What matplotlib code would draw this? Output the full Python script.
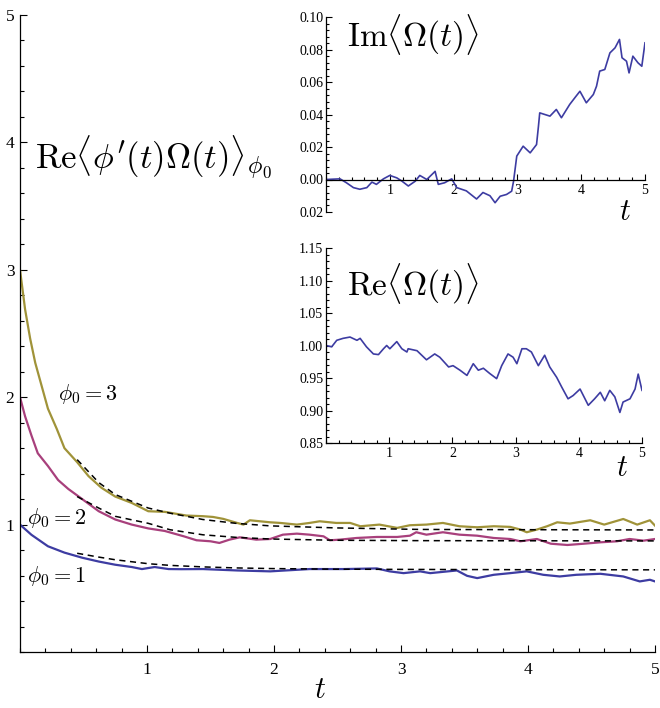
import matplotlib
matplotlib.use('Agg')
import matplotlib.pyplot as plt
from matplotlib.ticker import MultipleLocator, FixedLocator, FixedFormatter

plt.rcParams['mathtext.fontset'] = 'cm'
plt.rcParams['font.family'] = ['Liberation Serif', 'DejaVu Serif']

# main panel: Re<phi'(t) Omega(t)> for three initial values
gold_t = [0, 0.04, 0.08, 0.12, 0.17, 0.22, 0.29, 0.35, 0.45, 0.54, 0.64, 0.75, 0.88, 1.01,
          1.14, 1.31, 1.44, 1.52, 1.60, 1.71, 1.76, 1.81, 1.89, 1.97, 2.05, 2.18, 2.28,
          2.36, 2.49, 2.60, 2.68, 2.83, 2.97, 3.07, 3.20, 3.33, 3.46, 3.60, 3.73, 3.86,
          3.94, 3.99, 4.07, 4.15, 4.23, 4.33, 4.49, 4.60, 4.75, 4.86, 4.96, 5.0]
gold_v = [3.0, 2.69, 2.46, 2.27, 2.09, 1.91, 1.75, 1.60, 1.49, 1.38, 1.29, 1.22, 1.17, 1.105,
          1.10, 1.071, 1.066, 1.06, 1.045, 1.013, 1.0, 1.034, 1.026, 1.018, 1.013, 1.0, 1.013,
          1.026, 1.013, 1.013, 0.987, 1.0, 0.974, 0.995, 1.0, 1.013, 0.987, 0.979, 0.987, 0.982,
          0.961, 0.94, 0.961, 0.987, 1.018, 1.008, 1.034, 1.0, 1.044, 1.0, 1.034, 0.992]

pink_t = [0, 0.04, 0.09, 0.14, 0.22, 0.30, 0.38, 0.49, 0.62, 0.75, 0.88, 1.01, 1.14, 1.29,
          1.39, 1.50, 1.57, 1.65, 1.73, 1.86, 1.97, 2.07, 2.18, 2.28, 2.39, 2.44, 2.52, 2.65,
          2.81, 2.97, 3.07, 3.12, 3.20, 3.33, 3.46, 3.60, 3.73, 3.86, 3.94, 4.07, 4.18, 4.31,
          4.44, 4.57, 4.70, 4.80, 4.91, 5.0]
pink_v = [2.0, 1.85, 1.70, 1.56, 1.46, 1.35, 1.28, 1.20, 1.105, 1.04, 1.00, 0.97, 0.95, 0.908,
          0.877, 0.869, 0.856, 0.882, 0.90, 0.882, 0.887, 0.921, 0.929, 0.921, 0.908, 0.877,
          0.882, 0.895, 0.903, 0.903, 0.913, 0.94, 0.921, 0.94, 0.921, 0.913, 0.895, 0.887,
          0.869, 0.887, 0.85, 0.84, 0.85, 0.861, 0.869, 0.887, 0.874, 0.887]

blue_t = [0, 0.09, 0.22, 0.35, 0.49, 0.62, 0.75, 0.88, 0.96, 1.06, 1.17, 1.27, 1.44, 1.71,
          1.97, 2.28, 2.55, 2.81, 2.91, 3.02, 3.15, 3.23, 3.44, 3.52, 3.60, 3.73, 3.86, 3.99,
          4.12, 4.25, 4.38, 4.57, 4.75, 4.88, 4.96, 5.0]
blue_v = [1.0, 0.92, 0.83, 0.78, 0.74, 0.71, 0.685, 0.667, 0.651, 0.667, 0.651, 0.65, 0.651,
          0.640, 0.633, 0.651, 0.651, 0.656, 0.633, 0.619, 0.633, 0.619, 0.640, 0.598, 0.580,
          0.606, 0.619, 0.633, 0.606, 0.593, 0.606, 0.614, 0.593, 0.554, 0.567, 0.554]

# dashed fitted curves
fit_t = [0.45, 0.62, 0.75, 1.01, 1.18, 1.44, 1.70, 1.97, 2.49, 3.15, 4.0, 5.0]
gold_fit = [1.51, 1.33, 1.236, 1.13, 1.09, 1.04, 1.01, 0.99, 0.974, 0.962, 0.96, 0.958]
pink_fit = [1.22, 1.13, 1.065, 1.01, 0.96, 0.92, 0.90, 0.887, 0.877, 0.874, 0.873, 0.872]
blue_fit = [0.775, 0.745, 0.724, 0.693, 0.68, 0.668, 0.66, 0.655, 0.65, 0.648, 0.646, 0.645]

# inset: Im<Omega(t)>
im_t = [0, 0.22, 0.32, 0.43, 0.53, 0.64, 0.72, 0.79, 0.90, 1.00, 1.11, 1.19, 1.29, 1.40,
        1.47, 1.58, 1.71, 1.76, 1.86, 1.97, 2.05, 2.20, 2.36, 2.46, 2.57, 2.65, 2.73, 2.83,
        2.91, 2.94, 2.99, 3.09, 3.20, 3.30, 3.33, 3.35, 3.51, 3.61, 3.69, 3.82, 3.92, 3.98,
        4.08, 4.19, 4.24, 4.29, 4.37, 4.45, 4.53, 4.60, 4.64, 4.71, 4.75, 4.81, 4.89, 4.95, 5.0]
im_v = [0, 0.0004, -0.002, -0.005, -0.006, -0.005, -0.0016, -0.003, 0.0004, 0.0025, 0.001,
        -0.001, -0.004, -0.001, 0.0025, 0, 0.005, -0.003, -0.002, 0.0004, -0.005, -0.007,
        -0.012, -0.008, -0.010, -0.0143, -0.0103, -0.0092, -0.0072, -0.001, 0.0144, 0.0205,
        0.0164, 0.0215, 0.0328, 0.041, 0.039, 0.0431, 0.038, 0.0462, 0.0513, 0.0543, 0.0472,
        0.0523, 0.0574, 0.0667, 0.0677, 0.0779, 0.081, 0.0862, 0.0749, 0.0728, 0.0656, 0.0759,
        0.0718, 0.0697, 0.0841]

# inset: Re<Omega(t)>
re_t = [0, 0.09, 0.17, 0.27, 0.38, 0.49, 0.54, 0.64, 0.75, 0.83, 0.91, 0.96, 1.01, 1.12,
        1.20, 1.28, 1.30, 1.44, 1.59, 1.72, 1.80, 1.94, 2.01, 2.12, 2.23, 2.33, 2.41, 2.49,
        2.59, 2.70, 2.78, 2.88, 2.96, 3.02, 3.10, 3.17, 3.25, 3.36, 3.46, 3.54, 3.65, 3.73,
        3.83, 3.91, 4.02, 4.15, 4.25, 4.34, 4.41, 4.49, 4.57, 4.65, 4.70, 4.81, 4.89, 4.94, 5.0]
re_v = [1.0, 0.998, 1.008, 1.011, 1.013, 1.008, 1.011, 0.998, 0.987, 0.986, 0.995, 1.0, 0.995,
        1.006, 0.995, 0.990, 0.995, 0.992, 0.978, 0.987, 0.982, 0.967, 0.969, 0.962, 0.954,
        0.972, 0.962, 0.965, 0.957, 0.949, 0.969, 0.987, 0.982, 0.972, 0.995, 0.995, 0.990,
        0.969, 0.985, 0.967, 0.951, 0.936, 0.918, 0.923, 0.933, 0.908, 0.918, 0.928, 0.915,
        0.931, 0.921, 0.897, 0.913, 0.918, 0.933, 0.956, 0.931]

main_ticks = [1, 2, 3, 4, 5]
im_ticks = [-0.02, 0.0, 0.02, 0.04, 0.06, 0.08, 0.10]
im_labels = ['0.02', '0.00', '0.02', '0.04', '0.06', '0.08', '0.10']
re_ticks = [0.85, 0.90, 0.95, 1.00, 1.05, 1.10, 1.15]

GOLD = '#a09339'
PINK = '#a8407c'
BLUE = '#3d3ca2'


def style_axes(ax, fontsize, major_len, minor_len, pad):
    ax.spines['top'].set_visible(False)
    ax.spines['right'].set_visible(False)
    for s in ('left', 'bottom'):
        ax.spines[s].set_linewidth(0.9)
    ax.patch.set_alpha(0)
    ax.tick_params(which='both', direction='in', width=0.8, labelsize=fontsize, pad=pad)
    ax.tick_params(which='major', length=major_len)
    ax.tick_params(which='minor', length=minor_len)


fig = plt.figure(figsize=(6.6, 7.08), dpi=100)

# main axes
ax = fig.add_axes([20 / 660, 1 - 652 / 708, 635 / 660, 637 / 708])
ax.plot(gold_t, gold_v, color=GOLD, lw=1.6)
ax.plot(pink_t, pink_v, color=PINK, lw=1.6)
ax.plot(blue_t, blue_v, color=BLUE, lw=1.6)
for fit in (gold_fit, pink_fit, blue_fit):
    ax.plot(fit_t, fit, color='black', lw=1.1, ls=(0, (4, 3)))
ax.set_xlim(0, 5)
ax.set_ylim(0, 5)
ax.xaxis.set_major_locator(FixedLocator(main_ticks))
ax.yaxis.set_major_locator(FixedLocator(main_ticks))
ax.xaxis.set_minor_locator(MultipleLocator(0.2))
ax.yaxis.set_minor_locator(MultipleLocator(0.2))
style_axes(ax, 12.5, 5, 3, 4)
ax.tick_params(axis='x', pad=7)

fig.text(35 / 660, 1 - 158 / 708, r'$\mathrm{Re}\langle\phi^\prime(t)\Omega(t)\rangle_{\phi_0}$',
         fontsize=25, ha='left', va='center')
fig.text(58 / 660, 1 - 394 / 708, r'$\phi_0 = 3$', fontsize=16, ha='left', va='center')
fig.text(27 / 660, 1 - 518 / 708, r'$\phi_0 = 2$', fontsize=16, ha='left', va='center')
fig.text(27 / 660, 1 - 576 / 708, r'$\phi_0 = 1$', fontsize=16, ha='left', va='center')
fig.text(320 / 660, 1 - 690 / 708, r'$t$', fontsize=22, ha='center', va='center')

# inset: imaginary part
ax1 = fig.add_axes([326 / 660, 1 - 212 / 708, 319 / 660, 195 / 708])
ax1.plot(im_t, im_v, color=BLUE, lw=1.2)
ax1.set_xlim(0, 5)
ax1.set_ylim(-0.02, 0.10)
ax1.spines['bottom'].set_position(('data', 0))
ax1.xaxis.set_major_locator(FixedLocator(main_ticks))
ax1.xaxis.set_minor_locator(MultipleLocator(0.2))
ax1.yaxis.set_major_locator(FixedLocator(im_ticks))
ax1.yaxis.set_major_formatter(FixedFormatter(im_labels))
ax1.yaxis.set_minor_locator(MultipleLocator(0.004))
style_axes(ax1, 10, 4, 2, 2)
ax1.tick_params(axis='x', pad=3)
fig.text(347 / 660, 1 - 35 / 708, r'$\mathrm{Im}\langle\Omega(t)\rangle$', fontsize=24,
         ha='left', va='center')
fig.text(625 / 660, 1 - 212 / 708, r'$t$', fontsize=22, ha='center', va='center')

# inset: real part
ax2 = fig.add_axes([326 / 660, 1 - 443 / 708, 316 / 660, 195 / 708])
ax2.plot(re_t, re_v, color=BLUE, lw=1.2)
ax2.set_xlim(0, 5)
ax2.set_ylim(0.85, 1.15)
ax2.xaxis.set_major_locator(FixedLocator(main_ticks))
ax2.xaxis.set_minor_locator(MultipleLocator(0.2))
ax2.yaxis.set_major_locator(FixedLocator(re_ticks))
ax2.yaxis.set_major_formatter(FixedFormatter(['%.2f' % v for v in re_ticks]))
ax2.yaxis.set_minor_locator(MultipleLocator(0.01))
style_axes(ax2, 10, 4, 2, 2)
ax2.tick_params(axis='x', pad=3)
fig.text(347 / 660, 1 - 284 / 708, r'$\mathrm{Re}\langle\Omega(t)\rangle$', fontsize=24,
         ha='left', va='center')
fig.text(622 / 660, 1 - 469 / 708, r'$t$', fontsize=22, ha='center', va='center')

fig.savefig('out.png', dpi=100)
